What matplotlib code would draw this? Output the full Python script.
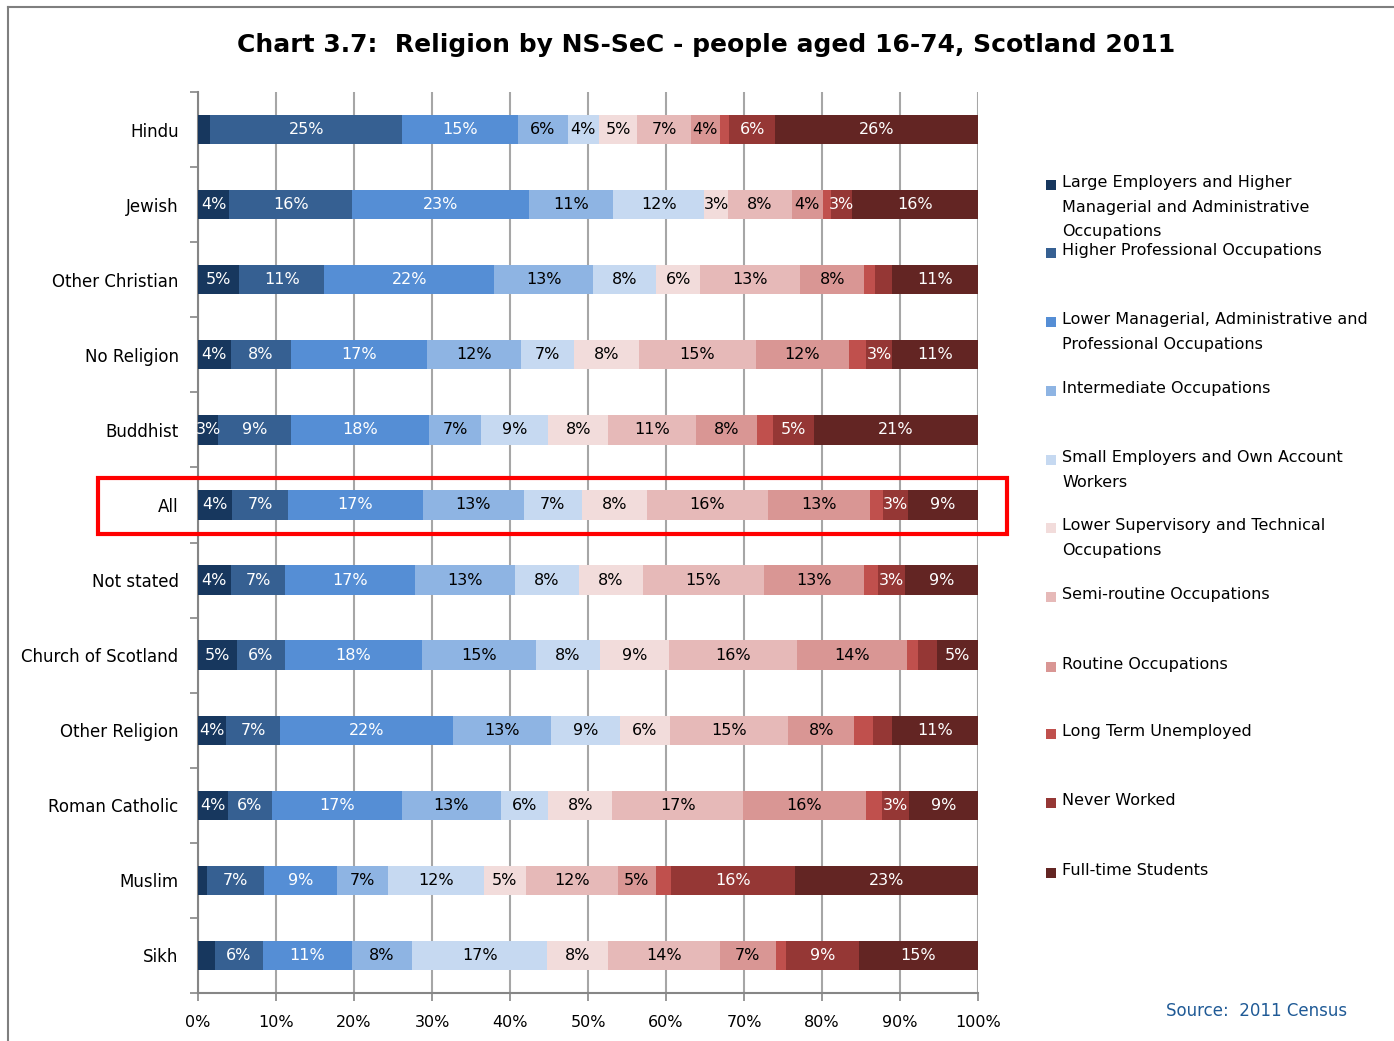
import numpy as np
import matplotlib.pyplot as plt
from matplotlib.patches import Rectangle
from matplotlib.lines import Line2D

religions = ['Hindu', 'Jewish', 'Other Christian', 'No Religion', 'Buddhist', 'All',
             'Not stated', 'Church of Scotland', 'Other Religion', 'Roman Catholic',
             'Muslim', 'Sikh']

groups = ['Large Employers and Higher\nManagerial and Administrative\nOccupations',
          'Higher Professional Occupations',
          'Lower Managerial, Administrative and\nProfessional Occupations',
          'Intermediate Occupations',
          'Small Employers and Own Account\nWorkers',
          'Lower Supervisory and Technical\nOccupations',
          'Semi-routine Occupations',
          'Routine Occupations',
          'Long Term Unemployed',
          'Never Worked',
          'Full-time Students']

# percent of each religion in each NS-SeC group (rows follow religions)
hindu = [1.6, 24.6, 14.8, 6.4, 4.0, 4.9, 6.9, 3.7, 1.2, 5.9, 26.0]
jewish = [4.0, 15.8, 22.6, 10.8, 11.7, 3.1, 8.1, 4.0, 1.1, 2.6, 16.2]
other_christian = [5.3, 10.9, 21.8, 12.6, 8.1, 5.7, 12.8, 8.2, 1.4, 2.2, 11.0]
no_religion = [4.2, 7.7, 17.4, 12.1, 6.8, 8.3, 15.0, 12.0, 2.1, 3.4, 11.0]
buddhist = [2.6, 9.3, 17.7, 6.7, 8.6, 7.7, 11.2, 7.9, 2.0, 5.3, 21.0]
all_people = [4.4, 7.1, 17.3, 13.0, 7.4, 8.3, 15.6, 13.0, 1.7, 3.2, 9.0]
not_stated = [4.2, 7.0, 16.6, 12.9, 8.1, 8.3, 15.4, 12.9, 1.8, 3.4, 9.4]
church_of_scotland = [5.0, 6.1, 17.6, 14.6, 8.3, 8.8, 16.4, 14.1, 1.4, 2.4, 5.3]
other_religion = [3.6, 6.9, 22.2, 12.6, 8.8, 6.4, 15.2, 8.4, 2.45, 2.45, 11.0]
roman_catholic = [3.8, 5.7, 16.6, 12.7, 6.1, 8.2, 16.8, 15.7, 2.1, 3.4, 8.9]
muslim = [1.2, 7.3, 9.3, 6.6, 12.3, 5.3, 11.8, 4.9, 1.9, 16.0, 23.4]
sikh = [2.2, 6.1, 11.4, 7.7, 17.4, 7.7, 14.4, 7.2, 1.3, 9.3, 15.3]

data = np.array([hindu, jewish, other_christian, no_religion, buddhist, all_people,
                 not_stated, church_of_scotland, other_religion, roman_catholic,
                 muslim, sikh])

colors = ['#17375E', '#366092', '#558ED5', '#8EB4E3', '#C6D9F1', '#F2DCDB',
          '#E6B9B8', '#D99694', '#C0504D', '#953735', '#632523']
white_text = [True, True, True, False, False, False, False, False, True, True, True]

fig = plt.figure(figsize=(13.94, 10.41), dpi=100)
ax = fig.add_axes([198 / 1394, 1 - 993 / 1041, 780 / 1394, 901 / 1041])

y = np.arange(len(religions))
left = np.zeros(len(religions))
for j in range(len(groups)):
    ax.barh(y, data[:, j], left=left, height=0.39, color=colors[j], linewidth=0, zorder=3)
    for i in range(len(religions)):
        v = data[i, j]
        if v >= 2.5:
            ax.text(left[i] + v / 2, y[i], '%d%%' % round(v), ha='center', va='center',
                    fontsize=11.5, color='white' if white_text[j] else 'black', zorder=4)
    left += data[:, j]

ax.set_xlim(0, 100)
ax.set_ylim(len(religions) - 0.5, -0.5)
ax.set_xticks(np.arange(0, 101, 10))
ax.set_xticklabels(['%d%%' % t for t in range(0, 101, 10)], fontsize=11.5)
ax.set_yticks(y)
ax.set_yticklabels(religions, fontsize=12)
ax.set_yticks(np.arange(-0.5, len(religions)), minor=True)
ax.tick_params(axis='y', which='major', length=0, pad=14)
ax.tick_params(axis='y', which='minor', length=6, color='#868686', width=1.2)
ax.tick_params(axis='x', length=6, color='#868686', width=1.2, pad=10)
ax.grid(axis='x', color='#A6A6A6', linewidth=1.5, zorder=0)
for s in ['top', 'right']:
    ax.spines[s].set_visible(False)
for s in ['left', 'bottom']:
    ax.spines[s].set_color('#868686')
    ax.spines[s].set_linewidth(1.5)

# highlight box around the "All" row
idx = religions.index('All')
ax.add_patch(Rectangle((-12.8, idx - 0.36), 116.5, 0.75, fill=False, edgecolor='#FF0000',
                       linewidth=3, clip_on=False, zorder=5))

fig.text(706 / 1394, 1 - 45 / 1041, 'Chart 3.7:  Religion by NS-SeC - people aged 16-74, Scotland 2011',
         ha='center', va='center', fontsize=18, fontweight='bold')

# legend, placed like the original
leg_y = [185, 253, 322, 391, 460, 528, 597, 667, 734, 803, 873]
for j, lab in enumerate(groups):
    yy = 1 - leg_y[j] / 1041
    fig.patches.append(Rectangle((1046 / 1394, yy - 5 / 1041), 10 / 1394, 10 / 1041,
                                 facecolor=colors[j], transform=fig.transFigure))
    fig.text(1062 / 1394, yy + 10 / 1041, lab, ha='left', va='top', fontsize=11.5,
             linespacing=1.8)

fig.text(1347 / 1394, 1 - 1011 / 1041, 'Source:  2011 Census', ha='right', va='center',
         fontsize=12, color='#1F5A96')

# outer frame of the chart area
fig.add_artist(Line2D([8 / 1394, 8 / 1394], [0, 1 - 7 / 1041], color='#7F7F7F', linewidth=1.5))
fig.add_artist(Line2D([8 / 1394, 1], [1 - 7 / 1041, 1 - 7 / 1041], color='#7F7F7F', linewidth=1.5))

fig.savefig('out.png', dpi=100)
